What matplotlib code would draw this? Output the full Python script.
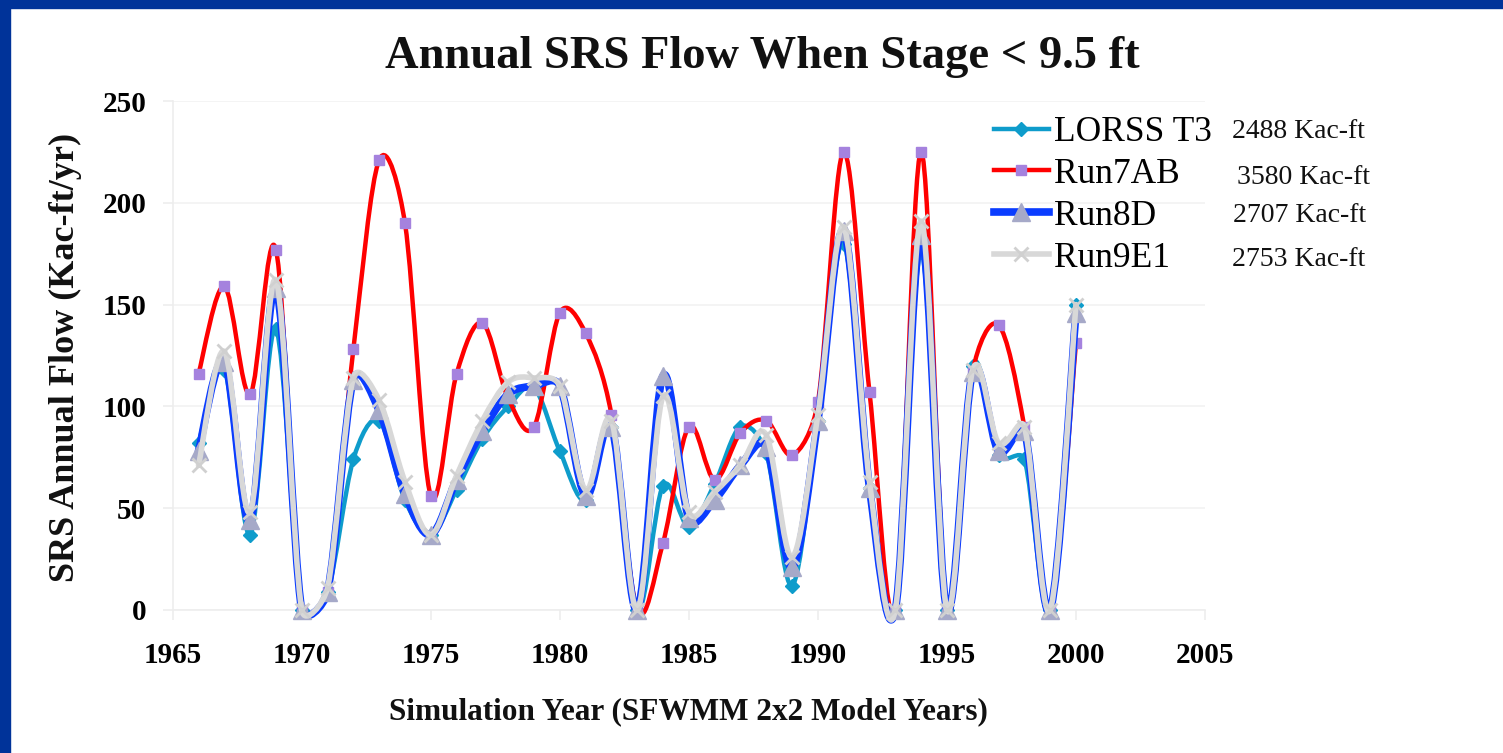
import numpy as np
import matplotlib
matplotlib.use("Agg")
import matplotlib.pyplot as plt
from matplotlib.path import Path
from matplotlib.patches import PathPatch, Rectangle
from matplotlib.lines import Line2D

years = list(range(1966, 2001))

lorss_t3 = [82, 118, 37, 138, 0, 9, 74, 93, 54, 37, 59, 84, 100, 109, 78, 54, 90, 0,
            61, 41, 62, 90, 77, 12, 93, 180, 60, 0, 176, 0, 120, 76, 74, 0, 150]
run7ab = [116, 159, 106, 177, 0, 9, 128, 221, 190, 56, 116, 141, 104, 90, 146, 136, 96, 0,
          33, 90, 64, 87, 93, 76, 102, 225, 107, 0, 225, 0, 117, 140, 90, 0, 131]
run8d = [78, 122, 44, 158, 0, 9, 113, 98, 57, 37, 64, 88, 106, 110, 110, 56, 90, 0,
         115, 45, 54, 71, 80, 21, 93, 186, 60, 0, 184, 0, 117, 78, 88, 0, 146]
run9e1 = [71, 127, 48, 162, 0, 11, 114, 103, 63, 37, 66, 93, 112, 114, 110, 59, 93, 0,
          105, 48, 58, 71, 86, 26, 96, 188, 63, 0, 191, 0, 118, 82, 90, 0, 150]

series_names = ["LORSS T3", "Run7AB", "Run8D", "Run9E1"]
totals = ["2488 Kac-ft", "3580 Kac-ft", "2707 Kac-ft", "2753 Kac-ft"]

title = "Annual SRS Flow When Stage < 9.5 ft"
xlabel = "Simulation Year (SFWMM 2x2 Model Years)"
ylabel = "SRS Annual Flow (Kac-ft/yr)"

SERIF = ["Liberation Serif", "DejaVu Serif"]

W, H = 1503, 753
AX_L, AX_R, AX_T, AX_B = 172.7, 1205, 101, 610
XMIN, XMAX, YMIN, YMAX = 1965, 2005, 0, 250
SX = (AX_R - AX_L) / (XMAX - XMIN)
SY = (AX_B - AX_T) / (YMAX - YMIN)


def smooth_path(x, y):
    # Excel-like smoothed line: Bezier segments, tangents capped at half segment length
    pts = np.column_stack([np.asarray(x, float) * SX, np.asarray(y, float) * SY])
    n = len(pts)
    verts = [pts[0]]
    codes = [Path.MOVETO]
    for i in range(n - 1):
        p0 = pts[i - 1] if i > 0 else pts[i]
        p1 = pts[i]
        p2 = pts[i + 1]
        p3 = pts[i + 2] if i + 2 < n else pts[i + 1]
        d12 = np.linalg.norm(p2 - p1)
        t1 = (p2 - p0) / 6.0
        t2 = (p3 - p1) / 6.0
        l1 = np.linalg.norm(t1)
        l2 = np.linalg.norm(t2)
        if l1 > d12 / 2 and l1 > 0:
            t1 = t1 * (d12 / 2) / l1
        if l2 > d12 / 2 and l2 > 0:
            t2 = t2 * (d12 / 2) / l2
        verts += [p1 + t1, p2 - t2, p2]
        codes += [Path.CURVE4] * 3
    verts = np.array(verts)
    verts[:, 0] /= SX
    verts[:, 1] /= SY
    return Path(verts, codes)


fig = plt.figure(figsize=(W / 100, H / 100), dpi=100)
fig.patch.set_facecolor("white")

fig.patches.append(Rectangle((0, 1 - 8 / H), 1, 8 / H, transform=fig.transFigure,
                             color="#003399", zorder=0))
fig.patches.append(Rectangle((0, 0), 10 / W, 1, transform=fig.transFigure,
                             color="#003399", zorder=0))

ax = fig.add_axes([AX_L / W, 1 - AX_B / H, (AX_R - AX_L) / W, (AX_B - AX_T) / H])
ax.set_xlim(XMIN, XMAX)
ax.set_ylim(YMIN, YMAX)
ax.set_xticks(range(1965, 2006, 5))
ax.set_yticks(range(0, 251, 50))
ax.grid(axis="y", color="#F2F2F2", linewidth=1.2)
ax.set_axisbelow(True)
for s in ["top", "right"]:
    ax.spines[s].set_visible(False)
for s in ["left", "bottom"]:
    ax.spines[s].set_color("#EDEDED")
    ax.spines[s].set_linewidth(1.2)
ax.tick_params(axis="x", direction="out", length=7, color="#EDEDED", width=1.2, pad=16)
ax.tick_params(axis="y", direction="out", length=7, color="#EDEDED", width=1.2, pad=12)
for lab in ax.get_xticklabels() + ax.get_yticklabels():
    lab.set_family(SERIF)
    lab.set_fontweight("bold")
    lab.set_fontsize(21)

styles = [
    dict(data=lorss_t3, lc="#0E9CCB", lw=3.2, marker="D", mfc="#0E9CCB", mec="#0E9CCB", ms=7, mew=1),
    dict(data=run7ab, lc="#FF0000", lw=3.2, marker="s", mfc="#A582DE", mec="#A582DE", ms=7, mew=1),
    dict(data=run8d, lc="#0A3CFF", lw=5.5, marker="^", mfc="#A6A9C8", mec="#A6A9C8", ms=13, mew=1),
    dict(data=run9e1, lc="#D8D8D8", lw=4.0, marker="x", mfc="#D0D0D0", mec="#D0D0D0", ms=10, mew=2),
]

handles = []
for z, (name, st) in enumerate(zip(series_names, styles)):
    path = smooth_path(years, st["data"])
    patch = PathPatch(path, facecolor="none", edgecolor=st["lc"], linewidth=st["lw"],
                      zorder=3 + 2 * z, clip_on=False, capstyle="round", joinstyle="round")
    ax.add_patch(patch)
    ax.plot(years, st["data"], linestyle="none", marker=st["marker"], markersize=st["ms"],
            markerfacecolor=st["mfc"], markeredgecolor=st["mec"], markeredgewidth=st["mew"],
            zorder=4 + 2 * z, clip_on=False)
    handles.append(Line2D([0], [0], color=st["lc"], linewidth=st["lw"], marker=st["marker"],
                          markersize=st["ms"], markerfacecolor=st["mfc"],
                          markeredgecolor=st["mec"], markeredgewidth=st["mew"]))

leg = fig.legend(handles, series_names, loc="upper left",
                 bbox_to_anchor=(994 / W, 1 - 116 / H), frameon=False,
                 prop=dict(family=SERIF, size=25.5), handlelength=1.55, handletextpad=0.15,
                 labelspacing=0.25, numpoints=1, borderaxespad=0, borderpad=0)

total_pos = [(1232, 131), (1237, 178), (1233, 215), (1232, 259)]
for t, (px, py) in zip(totals, total_pos):
    fig.text(px / W, 1 - py / H, t, family=SERIF, fontsize=20, ha="left", va="center",
             color="#111111")

fig.text(762 / W, 1 - 57 / H, title, family=SERIF, fontweight="bold", fontsize=33.5,
         ha="center", va="center", color="#111111")
fig.text(688 / W, 1 - 712 / H, xlabel, family=SERIF, fontweight="bold", fontsize=22.5,
         ha="center", va="center", color="#111111")
fig.text(65 / W, 1 - 357 / H, ylabel, family=SERIF, fontweight="bold", fontsize=26,
         ha="center", va="center", rotation=90, color="#111111")

fig.savefig("out.png", dpi=100, facecolor="white")
